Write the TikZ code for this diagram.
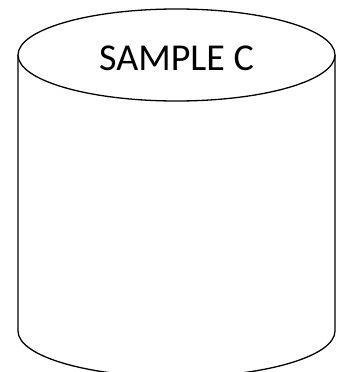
\documentclass[tikz,border=0pt]{standalone}
\usepackage{fontspec}
\setmainfont{Carlito}
\begin{document}
\begin{tikzpicture}[x=1pt,y=-1pt]
            {
                \tikzset{every path/.style = {line width=1.3pt}}

                \useasboundingbox (0, 0) rectangle (344, 372);

                % body of the drum, open at the bottom
                \draw (18, 55) -- (18, 331) arc[start angle=180, end angle=360, x radius=158.5, y radius=-46] -- (335, 55);
                \draw[fill=white] (176.5, 55) ellipse[x radius=158.5, y radius=46];
            }

            \node (label) at (176.5, 58) {\fontsize{38}{44}\selectfont SAMPLE C};

        \end{tikzpicture}
\end{document}
